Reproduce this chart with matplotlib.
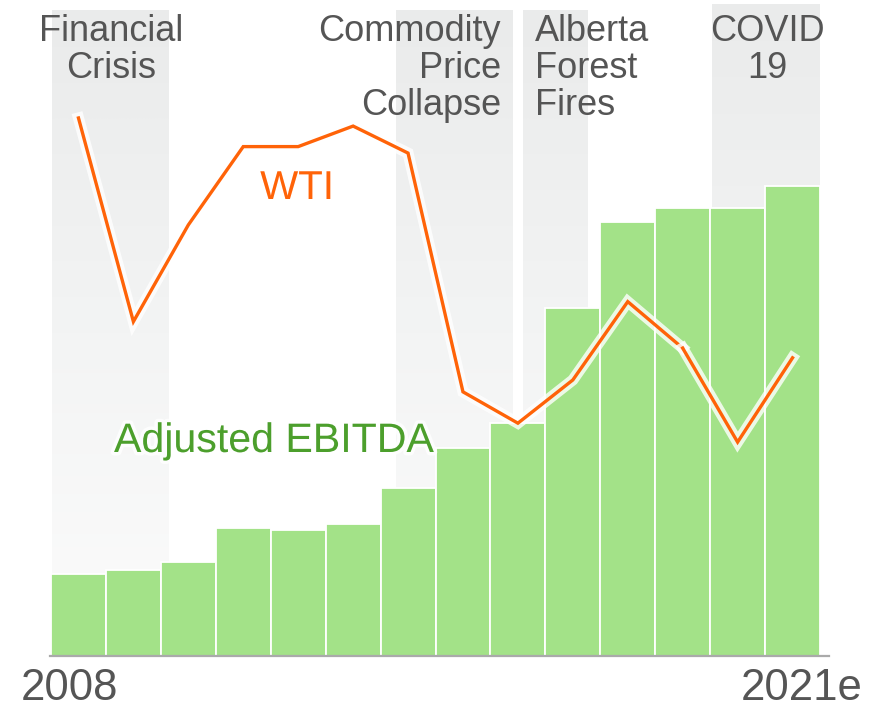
import matplotlib.pyplot as plt
import matplotlib.patheffects as pe
from matplotlib.colors import LinearSegmentedColormap
import numpy as np

plt.rcParams['font.family'] = ['Liberation Sans', 'DejaVu Sans']

# data
years = ["2008", "2009", "2010", "2011", "2012", "2013", "2014",
         "2015", "2016", "2017", "2018", "2019", "2020", "2021e"]
ebitda = [164, 172, 188, 256, 252, 264, 336, 416, 466, 696, 868, 896, 896, 940]
wti = [99.6, 61.9, 79.8, 94.3, 94.3, 98.1, 93.1, 48.9, 43.1, 51.1, 65.6, 57.0, 39.6, 55.2]

# shaded event periods (in bar index units) and their labels
event_labels = ["Financial\nCrisis", "Commodity\nPrice\nCollapse", "Alberta\nForest\nFires", "COVID\n19"]
event_spans = [(-0.48, 1.65), (5.78, 7.91), (8.09, 9.26), (11.53, 13.48)]

W, H = 884, 707
fig = plt.figure(figsize=(W / 100, H / 100), dpi=100)
ax = fig.add_axes([51 / W, 51 / H, 769 / W, 652 / H])
ax2 = ax.twinx()

x = np.arange(len(years))
ax.set_ylim(0, 1304)
ax2.set_ylim(0, 120.7)

# gradient bands
grad = np.linspace(0, 1, 256).reshape(-1, 1)
band_cmap = LinearSegmentedColormap.from_list("band", ["#eaebeb", "#f3f4f4", "#fcfcfc"])
tops = [1292, 1292, 1292, 1304]
for (x0, x1), top in zip(event_spans, tops):
    ax.imshow(grad, cmap=band_cmap, extent=(x0, x1, 0, top), aspect='auto',
              zorder=0, interpolation='bicubic')

ax.bar(x, ebitda, width=1.0, color="#a3e288", edgecolor="white", linewidth=1.3, zorder=2)

glow = [pe.withStroke(linewidth=8, foreground="white", alpha=0.8)]
ax2.plot(x[:12], wti[:12], color="#ff6308", lw=2.4, solid_joinstyle='miter',
         path_effects=glow, zorder=3)
ax2.plot(x[11:], wti[11:], color="#ff6308", lw=2.4, solid_joinstyle='miter',
         path_effects=glow, zorder=3)

for a in (ax, ax2):
    a.set_xticks([])
    a.set_yticks([])
    for s in a.spines.values():
        s.set_visible(False)
ax.set_xlim(-0.5, len(years) - 0.5)

# baseline
fig.add_artist(plt.Line2D([50 / W, 829 / W], [51 / H, 51 / H], color="#aaaaaa", lw=1.6))

def px(xp, yp):
    return xp / W, 1 - yp / H

gray = "#555555"
fs = 26
ls = 1.07
fig.text(*px(111, 14), event_labels[0], ha='center', va='top', fontsize=fs,
         color=gray, linespacing=ls)
fig.text(*px(501, 14), event_labels[1], ha='right', va='top', fontsize=fs,
         color=gray, linespacing=ls, multialignment='right')
fig.text(*px(535, 14), event_labels[2], ha='left', va='top', fontsize=fs,
         color=gray, linespacing=ls, multialignment='left')
fig.text(*px(767, 14), event_labels[3], ha='center', va='top', fontsize=fs,
         color=gray, linespacing=ls)

lbl_glow = [pe.withStroke(linewidth=5, foreground="white", alpha=0.8)]
fig.text(*px(297, 188), "WTI", ha='center', va='center', fontsize=29,
         color="#ff6308", path_effects=lbl_glow)
fig.text(*px(114, 441), "Adjusted EBITDA", ha='left', va='center', fontsize=29.6,
         color="#4c9f2c", path_effects=lbl_glow)

fig.text(*px(21, 688), years[0], ha='left', va='center', fontsize=31.5,
         color=gray)
fig.text(*px(863, 688), years[-1], ha='right', va='center', fontsize=31.5,
         color=gray)

fig.savefig("out.png", dpi=100)
